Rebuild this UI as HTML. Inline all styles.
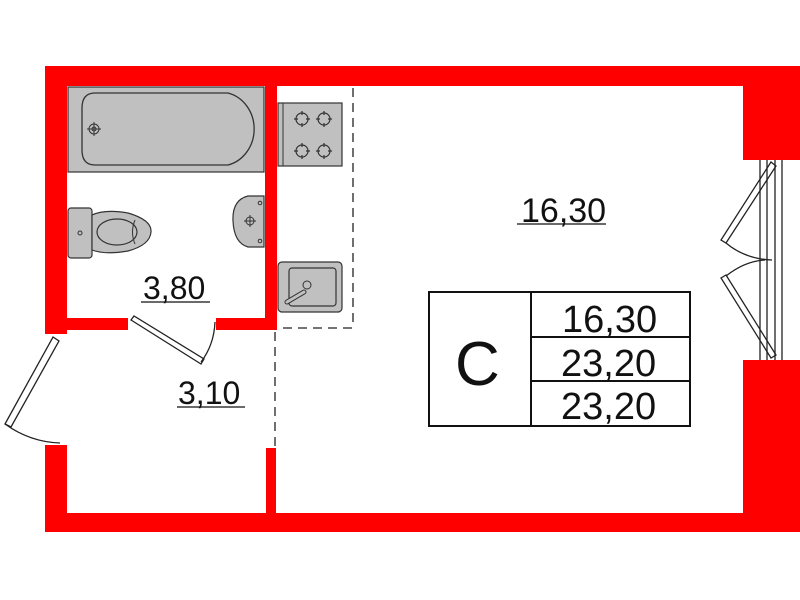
<!DOCTYPE html>
<html><head><meta charset="utf-8"><style>body{margin:0;background:#fff}svg{display:block}</style></head><body>
<svg width="800" height="600" viewBox="0 0 800 600" xmlns="http://www.w3.org/2000/svg" font-family="Liberation Sans, sans-serif">
<rect width="800" height="600" fill="#fff"/>
<g fill="#ff0000">
<rect x="45" y="66" width="755" height="20"/>
<rect x="743" y="66" width="57" height="94"/>
<rect x="743" y="360" width="57" height="172"/>
<rect x="45" y="513" width="755" height="19"/>
<rect x="45" y="66" width="22" height="268"/>
<rect x="45" y="445" width="22" height="87"/>
<rect x="265" y="86" width="12" height="244"/>
<rect x="67" y="318" width="61" height="12"/>
<rect x="216" y="318" width="61" height="12"/>
<rect x="266" y="448" width="10" height="66"/>
</g>
<g fill="none" stroke="#222" stroke-width="1.3">
<line x1="760" y1="160" x2="760" y2="360"/><line x1="767" y1="160" x2="767" y2="360"/>
<line x1="775" y1="160" x2="775" y2="360"/><line x1="782" y1="160" x2="782" y2="360"/>
<polygon points="771,162 776,166 726,243 721,240"/>
<polygon points="721,278 726,275 776,355 771,358"/>
<path d="M726,243 Q745,259 772,260"/><path d="M726,276 Q745,261 765,260"/>
<polygon points="53,337 59,341 11,427 5,424"/>
<path d="M5,424 Q30,442 60,443"/>
<polygon points="131,320 134,316 204,359 201,364"/>
<path d="M201,362 Q214,345 215,322"/>
</g>
<g fill="none" stroke="#222" stroke-width="1.3" stroke-dasharray="9,6">
<line x1="353" y1="88" x2="353" y2="328"/>
<line x1="283" y1="328" x2="353" y2="328"/>
<line x1="275" y1="332" x2="275" y2="448"/>
</g>
<rect x="68" y="87" width="196" height="85" fill="#c0c0c0" stroke="#333" stroke-width="1.2"/>
<path d="M95,93 H228 A34,37 0 0 1 228,165 H95 Q82,165 82,150 V108 Q82,93 95,93 Z" fill="#c0c0c0" stroke="#333" stroke-width="1.3"/>
<g stroke="#333" fill="none" stroke-width="1"><circle cx="94" cy="129" r="5"/><circle cx="94" cy="129" r="2"/><line x1="87" y1="129" x2="101" y2="129"/><line x1="94" y1="122" x2="94" y2="136"/></g>
<rect x="68" y="208" width="24" height="50" rx="3" fill="#c0c0c0" stroke="#333" stroke-width="1.2"/>
<circle cx="80" cy="233" r="2" fill="none" stroke="#333"/>
<path d="M92,215 Q105,209 128,213 Q152,220 151,232 Q150,245 128,251 Q105,255 92,250 Z" fill="#c0c0c0" stroke="#333" stroke-width="1.2"/>
<ellipse cx="117" cy="232" rx="20" ry="13" fill="#c0c0c0" stroke="#333" stroke-width="1.2"/>
<path d="M135,220 Q130,232 135,244" fill="none" stroke="#333"/>
<path d="M264,196 H248 Q232,200 233,221 Q234,243 248,247 H264 Z" fill="#c0c0c0" stroke="#333" stroke-width="1.2"/>
<circle cx="260" cy="203" r="1.8" fill="none" stroke="#333"/><circle cx="260" cy="241" r="1.8" fill="none" stroke="#333"/>
<g stroke="#333" fill="none" stroke-width="1"><circle cx="250" cy="221" r="4"/><line x1="244" y1="221" x2="256" y2="221"/><line x1="250" y1="215" x2="250" y2="227"/></g>
<rect x="278" y="103" width="64" height="63" fill="#c0c0c0" stroke="#333" stroke-width="1.2"/>
<line x1="283" y1="103" x2="283" y2="166" stroke="#333"/>
<g fill="none" stroke="#333" stroke-width="1.2">
<circle cx="302" cy="119" r="6"/><circle cx="324" cy="119" r="6"/><circle cx="302" cy="151" r="6"/><circle cx="324" cy="151" r="6"/>
<path d="M302,111v4M302,123v4M294,119h4M306,119h4M324,111v4M324,123v4M316,119h4M328,119h4M302,143v4M302,155v4M294,151h4M306,151h4M324,143v4M324,155v4M316,151h4M328,151h4"/>
</g>
<rect x="278" y="262" width="64" height="50" rx="4" fill="#c0c0c0" stroke="#333" stroke-width="1.2"/>
<rect x="289" y="268" width="47" height="38" rx="3" fill="#c0c0c0" stroke="#333" stroke-width="1.2"/>
<circle cx="307" cy="285" r="4" fill="#c0c0c0" stroke="#333"/>
<line x1="304" y1="292" x2="287" y2="302" stroke="#333" stroke-width="5" stroke-linecap="round"/>
<line x1="304" y1="292" x2="287" y2="302" stroke="#c0c0c0" stroke-width="3" stroke-linecap="round"/>
<g fill="#111">
<text x="521" y="222" font-size="34">16,30</text>
<text x="143" y="299" font-size="32">3,80</text>
<text x="178" y="404" font-size="32">3,10</text>
</g>
<g stroke="#111" stroke-width="1.3">
<line x1="517" y1="224" x2="606" y2="224"/>
<line x1="141" y1="302" x2="210" y2="302"/>
<line x1="177" y1="407" x2="245" y2="407"/>
</g>
<g fill="none" stroke="#111" stroke-width="2">
<rect x="429" y="292" width="261" height="134"/>
<line x1="531" y1="292" x2="531" y2="426"/>
<line x1="531" y1="337" x2="690" y2="337"/>
<line x1="531" y1="381" x2="690" y2="381"/>
</g>
<text x="455" y="385" font-size="62" fill="#111">C</text>
<g fill="#111" font-size="38">
<text x="562" y="332">16,30</text>
<text x="561" y="376">23,20</text>
<text x="561" y="419">23,20</text>
</g>
</svg>
</body></html>
